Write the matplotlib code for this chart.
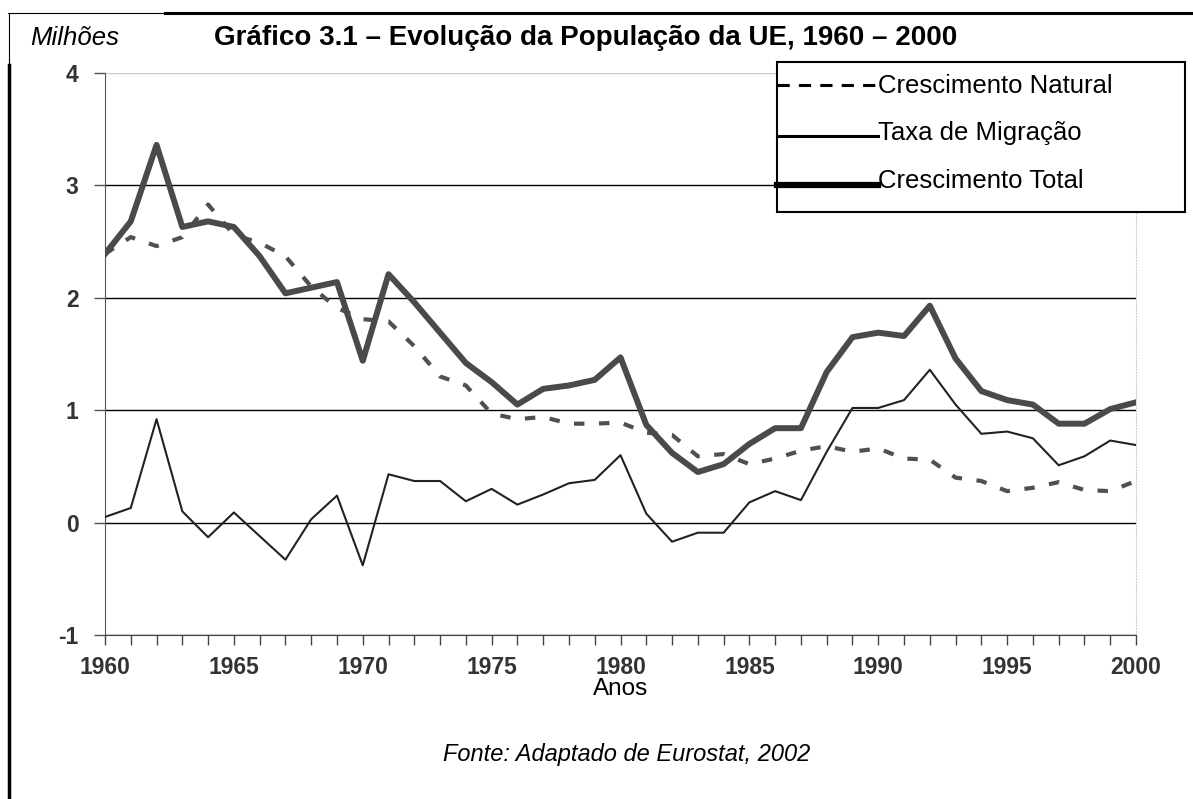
import numpy as np
import matplotlib.pyplot as plt
from matplotlib.lines import Line2D
from matplotlib.patches import Rectangle

# data (milhões)
anos = np.arange(1960, 2001)
natural = [2.39, 2.54, 2.46, 2.54, 2.83, 2.56, 2.49, 2.37, 2.10, 1.91,
           1.81, 1.79, 1.57, 1.30, 1.22, 0.97, 0.92, 0.94, 0.88, 0.88,
           0.89, 0.80, 0.78, 0.59, 0.61, 0.52, 0.57, 0.64, 0.68, 0.63,
           0.66, 0.57, 0.56, 0.40, 0.37, 0.28, 0.31, 0.36, 0.29, 0.28, 0.37]
migracao = [0.05, 0.13, 0.92, 0.10, -0.13, 0.09, -0.12, -0.33, 0.03, 0.24,
            -0.38, 0.43, 0.37, 0.37, 0.19, 0.30, 0.16, 0.25, 0.35, 0.38,
            0.60, 0.08, -0.17, -0.09, -0.09, 0.18, 0.28, 0.20, 0.63, 1.02,
            1.02, 1.09, 1.36, 1.05, 0.79, 0.81, 0.75, 0.51, 0.59, 0.73, 0.69]
total = [2.39, 2.68, 3.36, 2.63, 2.68, 2.63, 2.37, 2.04, 2.09, 2.14,
         1.44, 2.21, 1.96, 1.69, 1.42, 1.25, 1.05, 1.19, 1.22, 1.27,
         1.47, 0.87, 0.62, 0.45, 0.52, 0.70, 0.84, 0.84, 1.34, 1.65,
         1.69, 1.66, 1.93, 1.46, 1.17, 1.09, 1.05, 0.88, 0.88, 1.01, 1.07]
y_ticks = [-1, 0, 1, 2, 3, 4]
nomes = ["Crescimento Natural", "Taxa de Migração", "Crescimento Total"]

plt.rcParams['font.family'] = ['Liberation Sans', 'DejaVu Sans']

W, H = 1193, 799
fig = plt.figure(figsize=(W / 100, H / 100), dpi=100)


def fx(x):
    return x / W


def fy(y):
    return 1 - y / H


ax = fig.add_axes([fx(105), fy(635), fx(1136) - fx(105), fy(73) - fy(635)])

ax.plot(anos, natural, color='#505050', lw=3, dashes=(2.5, 3.5), zorder=3)
ax.plot(anos, migracao, color='#222222', lw=1.5, zorder=4)
ax.plot(anos, total, color='#4a4a4a', lw=4.3, zorder=5)

ax.set_xlim(1960, 2000)
ax.set_ylim(-1, 4)
ax.set_yticks(y_ticks)
ax.set_yticklabels([str(v) for v in y_ticks])
ax.set_xticks(anos)
ax.set_xticklabels([str(a) if a % 5 == 0 else '' for a in anos])

ax.grid(axis='y', color='black', lw=1)
ax.yaxis.get_gridlines()[-1].set_color('#c8c8c8')
ax.set_axisbelow(True)

ax.spines['top'].set_visible(False)
ax.spines['right'].set_color('#cfcfcf')
ax.spines['right'].set_linestyle(':')
ax.spines['left'].set_color('#555555')
ax.spines['bottom'].set_color('#444444')
ax.tick_params(axis='x', direction='out', length=7, width=1, color='#444444',
               pad=8, labelsize=16.5, labelcolor='#333333')
ax.tick_params(axis='y', direction='out', length=8, width=1, color='#555555',
               pad=11, labelsize=16.5, labelcolor='#333333')
for t in ax.get_xticklabels() + ax.get_yticklabels():
    t.set_fontweight('bold')

# títulos e textos
fig.text(fx(586), fy(38), "Gráfico 3.1 – Evolução da População da UE, 1960 – 2000",
         ha='center', va='center', fontsize=20, fontweight='bold')
fig.text(fx(30), fy(38), "Milhões", ha='left', va='center', fontsize=18.5, style='italic')
fig.text(fx(621), fy(689), "Anos", ha='center', va='center', fontsize=17.5)
fig.text(fx(627), fy(754), "Fonte: Adaptado de Eurostat, 2002", ha='center', va='center',
         fontsize=17, style='italic')

# legenda desenhada à mão
fig.patches.append(Rectangle((fx(777), fy(212)), fx(1185) - fx(777), fy(62) - fy(212),
                             transform=fig.transFigure, fill=True, facecolor='white',
                             edgecolor='black', lw=1.5, zorder=10))
estilos = [dict(lw=2.2, dashes=(4, 3)), dict(lw=2.2), dict(lw=4.5)]
linhas_y = [85, 136, 185]
textos_y = [86, 133, 181]
for nome, est, ly, ty in zip(nomes, estilos, linhas_y, textos_y):
    fig.add_artist(Line2D([fx(777), fx(878)], [fy(ly), fy(ly)], color='black',
                          transform=fig.transFigure, zorder=11, **est))
    fig.text(fx(878), fy(ty), nome, ha='left', va='center', fontsize=18.5, zorder=12)

# moldura da página
fig.add_artist(Line2D([fx(8), fx(165)], [fy(13), fy(13)], color='black', lw=0.8))
fig.add_artist(Line2D([fx(165), fx(1193)], [fy(13), fy(13)], color='black', lw=2.2))
fig.add_artist(Line2D([fx(9), fx(9)], [fy(13), fy(65)], color='black', lw=0.8))
fig.add_artist(Line2D([fx(9), fx(9)], [fy(65), fy(799)], color='black', lw=2.5))

fig.savefig('out.png', dpi=100)
